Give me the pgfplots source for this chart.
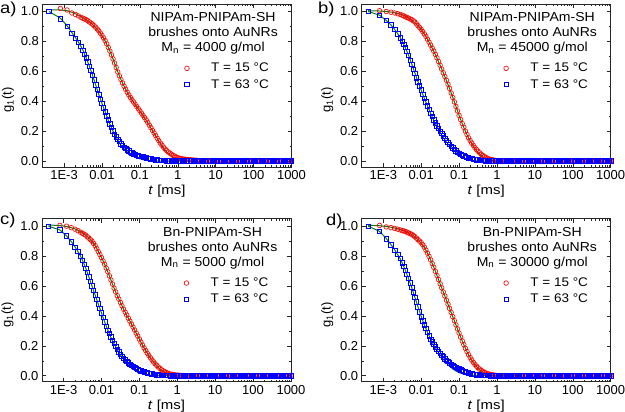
\documentclass[border=0pt]{standalone}
\usepackage{fontspec}
\setmainfont{Liberation Sans}
\usepackage{graphicx}
\usepackage{pgfplots}
\pgfplotsset{compat=1.18}
\usepackage{pgfplotstable}
\definecolor{myred}{RGB}{255,0,0}
\definecolor{myblue}{RGB}{0,0,255}
\definecolor{mygreen}{RGB}{0,128,0}

\pgfplotstableread{
t r b rf bf
4e-4 nan 1.00 1.012 1.00
8e-4 1.02 0.95 1.01 0.955
1.2e-3 1.01 0.90 1.005 0.905
1.6e-3 0.99 0.855 0.995 0.86
2e-3 0.98 0.82 0.985 0.825
2.4e-3 0.97 0.795 0.975 0.795
2.8e-3 0.96 0.765 0.965 0.765
3.162e-3 0.955 0.74 0.958 0.74
3.831e-3 0.945 0.69 0.946 0.69
4.642e-3 0.93 0.635 0.932 0.635
5.623e-3 0.915 0.575 0.914 0.575
6.813e-3 0.895 0.51 0.893 0.51
8.254e-3 0.87 0.445 0.868 0.445
0.01 0.84 0.385 0.838 0.385
0.01212 0.805 0.33 0.803 0.33
0.01468 0.76 0.275 0.76 0.273
0.01778 0.71 0.225 0.71 0.222
0.02154 0.655 0.18 0.655 0.178
0.0261 0.595 0.145 0.597 0.14
0.03162 0.545 0.115 0.545 0.108
0.03831 0.50 0.092 0.50 0.082
0.04642 0.46 0.074 0.46 0.061
0.05623 0.425 0.06 0.425 0.045
0.06813 0.395 0.049 0.393 0.032
0.08254 0.365 0.04 0.363 0.022
0.1 0.335 0.033 0.333 0.015
0.1212 0.305 0.027 0.303 0.009
0.1468 0.275 0.021 0.272 0.005
0.1778 0.24 0.016 0.238 0.002
0.2154 0.205 0.012 0.203 0.0
0.261 0.17 0.009 0.168 0.0
0.3162 0.135 0.006 0.133 0.0
0.3831 0.105 0.004 0.10 0.0
0.4642 0.08 0.003 0.073 0.0
0.5623 0.06 0.002 0.05 0.0
0.6813 0.045 0.001 0.033 0.0
0.8254 0.032 0.001 0.02 0.0
1 0.022 0.0 0.011 0.0
1.212 0.016 0.001 0.005 0.0
1.468 0.012 0.0 0.002 0.0
1.778 0.01 0.001 0.0 0.0
2.154 0.008 0.0 0.0 0.0
2.61 0.006 0.0 0.0 0.0
3.162 0.005 0.001 0.0 0.0
}\tA

\pgfplotstableread{
t r b
3.481e-3 0.95 0.715
4.217e-3 0.938 0.662
5.109e-3 0.923 0.605
6.19e-3 0.905 0.543
7.499e-3 0.883 0.478
9.085e-3 0.855 0.414
0.01101 0.823 0.357
0.01334 0.783 0.302
0.01616 0.735 0.25
0.01957 0.683 0.202
0.02371 0.625 0.162
0.02873 0.57 0.13
0.03481 0.522 0.103
0.04217 0.48 0.083
0.05109 0.442 0.067
0.0619 0.41 0.054
0.07499 0.38 0.044
0.09085 0.35 0.036
0.1101 0.32 0.03
0.1334 0.29 0.024
0.1616 0.258 0.018
0.1957 0.223 0.014
0.2371 0.188 0.010
0.2873 0.152 0.007
0.3481 0.12 0.005
0.4217 0.092 0.003
0.5109 0.07 0.002
0.619 0.052 0.001
0.7499 0.038 0.0
0.9085 0.027 0.001
1.101 0.019 0.0
1.334 0.014 0.001
1.616 0.011 0.0
1.957 0.009 0.001
2.371 0.007 0.0
2.873 0.005 0.0
}\tAm

\pgfplotstableread{
t r b rf bf
4e-4 nan 1.00 1.005 1.00
8e-4 1.005 0.975 1.003 0.975
1.2e-3 1.0 0.94 1.0 0.94
1.6e-3 0.995 0.91 0.996 0.91
2e-3 0.99 0.88 0.992 0.88
2.4e-3 0.985 0.85 0.988 0.852
2.8e-3 0.98 0.825 0.983 0.826
3.162e-3 0.975 0.80 0.978 0.80
3.831e-3 0.965 0.76 0.968 0.758
4.642e-3 0.955 0.705 0.956 0.708
5.623e-3 0.945 0.645 0.942 0.65
6.813e-3 0.93 0.585 0.925 0.59
8.254e-3 0.905 0.53 0.905 0.53
0.01 0.88 0.475 0.88 0.474
0.01212 0.85 0.42 0.85 0.42
0.01468 0.815 0.37 0.815 0.368
0.01778 0.775 0.32 0.775 0.318
0.02154 0.735 0.275 0.733 0.272
0.0261 0.69 0.235 0.688 0.23
0.03162 0.64 0.20 0.64 0.192
0.03831 0.59 0.168 0.59 0.157
0.04642 0.54 0.138 0.538 0.127
0.05623 0.485 0.11 0.484 0.10
0.06813 0.425 0.088 0.426 0.077
0.08254 0.365 0.068 0.366 0.057
0.1 0.305 0.052 0.306 0.04
0.1212 0.25 0.04 0.25 0.026
0.1468 0.2 0.03 0.198 0.016
0.1778 0.155 0.022 0.153 0.009
0.2154 0.12 0.016 0.115 0.005
0.261 0.09 0.011 0.084 0.002
0.3162 0.065 0.007 0.058 0.0
0.3831 0.045 0.005 0.037 0.0
0.4642 0.03 0.003 0.021 0.0
0.5623 0.018 0.002 0.011 0.0
0.6813 0.01 0.001 0.005 0.0
0.8254 0.006 0.0 0.002 0.0
1 0.003 0.001 0.0 0.0
1.212 0.002 0.0 0.0 0.0
1.468 0.001 0.0 0.0 0.0
1.778 0.0 0.001 0.0 0.0
2.154 0.001 0.0 0.0 0.0
2.61 0.0 0.0 0.0 0.0
3.162 0.0 0.001 0.0 0.0
}\tB

\pgfplotstableread{
t r b
3.481e-3 0.97 0.78
4.217e-3 0.96 0.733
5.109e-3 0.95 0.675
6.19e-3 0.938 0.615
7.499e-3 0.918 0.557
9.085e-3 0.893 0.502
0.01101 0.865 0.447
0.01334 0.833 0.395
0.01616 0.795 0.345
0.01957 0.755 0.297
0.02371 0.713 0.255
0.02873 0.665 0.217
0.03481 0.615 0.184
0.04217 0.565 0.153
0.05109 0.513 0.124
0.0619 0.455 0.099
0.07499 0.395 0.078
0.09085 0.335 0.06
0.1101 0.277 0.046
0.1334 0.225 0.035
0.1616 0.177 0.026
0.1957 0.137 0.019
0.2371 0.105 0.013
0.2873 0.077 0.009
0.3481 0.055 0.006
0.4217 0.037 0.004
0.5109 0.024 0.002
0.619 0.014 0.001
0.7499 0.008 0.001
0.9085 0.004 0.0
1.101 0.002 0.001
1.334 0.001 0.0
1.616 0.0 0.001
1.957 0.001 0.0
2.371 0.0 0.001
2.873 0.0 0.0
}\tBm

\pgfplotstableread{
t r b rf bf
4e-4 nan 1.00 1.008 1.00
8e-4 1.005 0.975 1.004 0.975
1.2e-3 1.0 0.935 0.998 0.935
1.6e-3 0.99 0.895 0.99 0.897
2e-3 0.98 0.86 0.982 0.862
2.4e-3 0.97 0.83 0.973 0.83
2.8e-3 0.96 0.80 0.964 0.80
3.162e-3 0.952 0.77 0.955 0.772
3.831e-3 0.94 0.72 0.94 0.72
4.642e-3 0.92 0.66 0.921 0.662
5.623e-3 0.90 0.60 0.898 0.60
6.813e-3 0.87 0.54 0.869 0.54
8.254e-3 0.83 0.48 0.832 0.48
0.01 0.79 0.42 0.79 0.42
0.01212 0.745 0.36 0.745 0.36
0.01468 0.695 0.305 0.695 0.305
0.01778 0.64 0.26 0.64 0.256
0.02154 0.585 0.215 0.585 0.212
0.0261 0.535 0.178 0.535 0.174
0.03162 0.49 0.145 0.49 0.14
0.03831 0.445 0.118 0.445 0.11
0.04642 0.405 0.095 0.405 0.085
0.05623 0.365 0.077 0.365 0.063
0.06813 0.325 0.062 0.325 0.045
0.08254 0.285 0.049 0.285 0.031
0.1 0.245 0.038 0.245 0.02
0.1212 0.205 0.03 0.205 0.012
0.1468 0.168 0.023 0.168 0.007
0.1778 0.135 0.017 0.134 0.003
0.2154 0.105 0.012 0.104 0.001
0.261 0.08 0.008 0.078 0.0
0.3162 0.058 0.005 0.055 0.0
0.3831 0.04 0.003 0.036 0.0
0.4642 0.027 0.002 0.022 0.0
0.5623 0.017 0.001 0.012 0.0
0.6813 0.01 0.0 0.006 0.0
0.8254 0.006 0.001 0.002 0.0
1 0.004 0.0 0.0 0.0
1.212 0.002 0.0 0.0 0.0
1.468 0.001 0.001 0.0 0.0
1.778 0.0 0.0 0.0 0.0
2.154 0.001 0.0 0.0 0.0
2.61 0.0 0.001 0.0 0.0
3.162 0.0 0.0 0.0 0.0
}\tC

\pgfplotstableread{
t r b
3.481e-3 0.946 0.745
4.217e-3 0.93 0.69
5.109e-3 0.91 0.63
6.19e-3 0.885 0.57
7.499e-3 0.85 0.51
9.085e-3 0.81 0.45
0.01101 0.768 0.39
0.01334 0.72 0.332
0.01616 0.668 0.282
0.01957 0.613 0.237
0.02371 0.56 0.196
0.02873 0.512 0.161
0.03481 0.468 0.131
0.04217 0.425 0.106
0.05109 0.385 0.086
0.0619 0.345 0.069
0.07499 0.305 0.055
0.09085 0.265 0.043
0.1101 0.225 0.034
0.1334 0.186 0.026
0.1616 0.151 0.02
0.1957 0.12 0.014
0.2371 0.092 0.01
0.2873 0.069 0.006
0.3481 0.049 0.004
0.4217 0.033 0.002
0.5109 0.022 0.001
0.619 0.013 0.001
0.7499 0.008 0.0
0.9085 0.005 0.001
1.101 0.003 0.0
1.334 0.001 0.0
1.616 0.001 0.001
1.957 0.0 0.0
2.371 0.001 0.0
2.873 0.0 0.001
}\tCm

\pgfplotstableread{
t r b rf bf
4e-4 nan 1.00 1.006 1.00
8e-4 1.005 0.965 1.003 0.965
1.2e-3 0.995 0.915 0.998 0.918
1.6e-3 0.99 0.875 0.993 0.877
2e-3 0.985 0.84 0.988 0.842
2.4e-3 0.98 0.81 0.983 0.81
2.8e-3 0.975 0.785 0.978 0.782
3.162e-3 0.97 0.755 0.973 0.755
3.831e-3 0.965 0.705 0.965 0.705
4.642e-3 0.955 0.65 0.955 0.65
5.623e-3 0.945 0.59 0.944 0.59
6.813e-3 0.93 0.525 0.929 0.525
8.254e-3 0.91 0.46 0.91 0.46
0.01 0.89 0.395 0.887 0.397
0.01212 0.86 0.34 0.858 0.34
0.01468 0.82 0.29 0.82 0.29
0.01778 0.775 0.245 0.776 0.245
0.02154 0.725 0.21 0.726 0.205
0.0261 0.67 0.178 0.671 0.17
0.03162 0.615 0.15 0.615 0.14
0.03831 0.56 0.125 0.56 0.11
0.04642 0.505 0.104 0.505 0.085
0.05623 0.45 0.086 0.45 0.064
0.06813 0.395 0.07 0.395 0.046
0.08254 0.34 0.057 0.34 0.032
0.1 0.285 0.045 0.285 0.021
0.1212 0.232 0.035 0.232 0.013
0.1468 0.183 0.026 0.183 0.007
0.1778 0.14 0.019 0.14 0.003
0.2154 0.105 0.013 0.104 0.001
0.261 0.076 0.009 0.075 0.0
0.3162 0.053 0.006 0.05 0.0
0.3831 0.036 0.004 0.032 0.0
0.4642 0.023 0.002 0.019 0.0
0.5623 0.014 0.001 0.01 0.0
0.6813 0.008 0.0 0.005 0.0
0.8254 0.004 0.001 0.002 0.0
1 0.002 0.0 0.0 0.0
1.212 0.001 0.0 0.0 0.0
1.468 0.0 0.001 0.0 0.0
1.778 0.001 0.0 0.0 0.0
2.154 0.0 0.0 0.0 0.0
2.61 0.0 0.001 0.0 0.0
3.162 0.001 0.0 0.0 0.0
}\tD

\pgfplotstableread{
t r b
3.481e-3 0.968 0.73
4.217e-3 0.96 0.678
5.109e-3 0.95 0.62
6.19e-3 0.938 0.558
7.499e-3 0.92 0.493
9.085e-3 0.9 0.427
0.01101 0.875 0.367
0.01334 0.84 0.315
0.01616 0.798 0.267
0.01957 0.75 0.227
0.02371 0.698 0.194
0.02873 0.643 0.164
0.03481 0.588 0.137
0.04217 0.533 0.114
0.05109 0.478 0.095
0.0619 0.423 0.078
0.07499 0.368 0.063
0.09085 0.313 0.051
0.1101 0.258 0.04
0.1334 0.208 0.03
0.1616 0.162 0.022
0.1957 0.122 0.016
0.2371 0.09 0.011
0.2873 0.064 0.007
0.3481 0.044 0.005
0.4217 0.029 0.003
0.5109 0.018 0.001
0.619 0.011 0.001
0.7499 0.006 0.0
0.9085 0.003 0.001
1.101 0.001 0.0
1.334 0.0 0.001
1.616 0.001 0.0
1.957 0.0 0.0
2.371 0.0 0.001
2.873 0.001 0.0
}\tDm

\pgfplotstableread{
t r b
3.481 0.0 0.001
3.831 0.001 0.0
4.217 0.0 0.0
4.642 0.0 0.001
5.109 0.001 -0.001
5.623 0.001 0.0
6.19 0.0 0.001
6.813 0.0 0.0
7.499 0.001 0.0
8.254 0.0 0.001
9.085 0.0 -0.001
10 0.001 0.0
11.01 0.0 0.001
12.12 0.0 -0.001
13.34 0.001 0.0
14.68 0.0 0.0
16.16 0.0 0.001
17.78 0.001 0.001
19.57 0.0 -0.001
21.54 0.0 0.0
23.71 0.001 0.0
26.1 0.0 0.0
28.73 0.0 0.001
31.62 0.001 0.001
34.81 0.0 -0.001
38.31 0.0 0.0
42.17 0.001 0.001
46.42 0.0 -0.001
51.09 0.0 0.0
56.23 0.001 0.0
61.9 0.0 -0.001
68.13 0.0 0.001
74.99 0.001 0.0
82.54 0.0 0.0
90.85 0.0 0.001
100 0.001 0.0
110.1 0.0 -0.001
121.2 0.0 0.001
133.4 0.001 0.0
146.8 0.0 0.0
161.6 0.0 0.001
177.8 0.001 -0.001
195.7 0.0 0.0
215.4 0.0 0.0
237.1 0.001 0.001
261 0.0 0.001
287.3 0.0 -0.001
316.2 0.001 0.0
348.1 0.0 0.001
383.1 0.0 0.0
421.7 0.001 -0.001
464.2 0.0 0.001
510.9 0.0 0.0
562.3 0.001 0.0
619 0.0 0.001
681.3 0.0 0.0
749.9 0.001 -0.001
825.4 0.0 0.001
908.5 0.0 0.0
1000 0.001 0.0
}\tBase

\pgfplotsset{
  dls/.style={
    scale only axis, width=249pt, height=163pt,
    anchor=south west,
    xmin=2.7e-4, xmax=1000,
    ymin=-0.04, ymax=1.05,
    xtick={1e-3,0.01,0.1,1,10,100,1000},
    xticklabels={1E-3,0.01,0.1,1,10,100,1000},
    ytick={0,0.2,0.4,0.6,0.8,1.0},
    minor ytick={0.1,0.3,0.5,0.7,0.9},
    yticklabels={0.0,0.2,0.4,0.6,0.8,1.0},
    tick label style={font=\fontsize{13}{13}\selectfont},
    label style={font=\fontsize{13}{13}\selectfont},
    xlabel={\scalebox{1.15}[1]{\textit{t} [ms]}},
    ylabel={g\textsubscript{1}(t)},
    xlabel style={at={(axis description cs:0.5,-0.149)},anchor=center},
    ylabel style={at={(axis description cs:-0.138,0.41)},anchor=center},
    axis line style={line width=0.8pt,black!85},
    major tick length=4pt, minor tick length=2pt,
    tick style={black!85,line width=0.5pt},
    legend style={draw=none,fill=none,font=\fontsize{12.5}{12.5}\selectfont,
      at={(axis description cs:0.57,0.65)},anchor=north west,row sep=2pt,column sep=20pt,inner sep=0pt},
    legend cell align=left,
  },
  rdata/.style={only marks,mark=o,mark size=2.3pt,color=myred,line width=0.65pt},
  bdata/.style={only marks,mark=square,mark size=2.2pt,color=myblue,line width=0.65pt},
  fitline/.style={no marks,color=mygreen,line width=1pt},
}
\tikzset{paneltext/.style={align=center,font=\fontsize{13}{14.8}\selectfont},
  panelletter/.style={anchor=base west,inner sep=0pt,font=\fontsize{16}{16}\selectfont}}
\newcommand{\wtxt}[1]{\scalebox{1.08}[1]{#1}}

\begin{document}
\begin{tikzpicture}
\useasboundingbox (0pt,0pt) rectangle (625pt,412pt);

\begin{semilogxaxis}[dls, at={(42.5pt,245pt)}]
\addplot[rdata] table[x=t,y=r]{\tA};
\addlegendentry{\wtxt{T = 15 °C}}
\addplot[rdata,forget plot] table[x=t,y=r]{\tAm};
\addplot[rdata,forget plot] table[x=t,y=r]{\tBase};
\addplot[bdata] table[x=t,y=b]{\tA};
\addlegendentry{\wtxt{T = 63 °C}}
\addplot[bdata,forget plot] table[x=t,y=b]{\tAm};
\addplot[bdata,forget plot] table[x=t,y=b]{\tBase};
\addplot[fitline,forget plot] table[x=t,y=rf]{\tA};
\addplot[fitline,forget plot] table[x=t,y=bf]{\tA};
\node[paneltext] at (axis description cs:0.685,0.82) {\wtxt{NIPAm-PNIPAm-SH}\\\wtxt{brushes onto AuNRs}\\\wtxt{M\textsubscript{n} = 4000 g/mol}};
\end{semilogxaxis}

\begin{semilogxaxis}[dls, at={(361.7pt,245pt)}]
\addplot[rdata] table[x=t,y=r]{\tB};
\addlegendentry{\wtxt{T = 15 °C}}
\addplot[rdata,forget plot] table[x=t,y=r]{\tBm};
\addplot[rdata,forget plot] table[x=t,y=r]{\tBase};
\addplot[bdata] table[x=t,y=b]{\tB};
\addlegendentry{\wtxt{T = 63 °C}}
\addplot[bdata,forget plot] table[x=t,y=b]{\tBm};
\addplot[bdata,forget plot] table[x=t,y=b]{\tBase};
\addplot[fitline,forget plot] table[x=t,y=rf]{\tB};
\addplot[fitline,forget plot] table[x=t,y=bf]{\tB};
\node[paneltext] at (axis description cs:0.685,0.82) {\wtxt{NIPAm-PNIPAm-SH}\\\wtxt{brushes onto AuNRs}\\\wtxt{M\textsubscript{n} = 45000 g/mol}};
\end{semilogxaxis}

\begin{semilogxaxis}[dls, at={(42pt,30.3pt)}]
\addplot[rdata] table[x=t,y=r]{\tC};
\addlegendentry{\wtxt{T = 15 °C}}
\addplot[rdata,forget plot] table[x=t,y=r]{\tCm};
\addplot[rdata,forget plot] table[x=t,y=r]{\tBase};
\addplot[bdata] table[x=t,y=b]{\tC};
\addlegendentry{\wtxt{T = 63 °C}}
\addplot[bdata,forget plot] table[x=t,y=b]{\tCm};
\addplot[bdata,forget plot] table[x=t,y=b]{\tBase};
\addplot[fitline,forget plot] table[x=t,y=rf]{\tC};
\addplot[fitline,forget plot] table[x=t,y=bf]{\tC};
\node[paneltext] at (axis description cs:0.685,0.82) {\wtxt{Bn-PNIPAm-SH}\\\wtxt{brushes onto AuNRs}\\\wtxt{M\textsubscript{n} = 5000 g/mol}};
\end{semilogxaxis}

\begin{semilogxaxis}[dls, at={(361.7pt,30.3pt)}]
\addplot[rdata] table[x=t,y=r]{\tD};
\addlegendentry{\wtxt{T = 15 °C}}
\addplot[rdata,forget plot] table[x=t,y=r]{\tDm};
\addplot[rdata,forget plot] table[x=t,y=r]{\tBase};
\addplot[bdata] table[x=t,y=b]{\tD};
\addlegendentry{\wtxt{T = 63 °C}}
\addplot[bdata,forget plot] table[x=t,y=b]{\tDm};
\addplot[bdata,forget plot] table[x=t,y=b]{\tBase};
\addplot[fitline,forget plot] table[x=t,y=rf]{\tD};
\addplot[fitline,forget plot] table[x=t,y=bf]{\tD};
\node[paneltext] at (axis description cs:0.685,0.82) {\wtxt{Bn-PNIPAm-SH}\\\wtxt{brushes onto AuNRs}\\\wtxt{M\textsubscript{n} = 30000 g/mol}};
\end{semilogxaxis}

\node[panelletter] at (0pt,398pt) {\scalebox{1.15}[1]{a)}};
\node[panelletter] at (318pt,398pt) {\scalebox{1.15}[1]{b)}};
\node[panelletter] at (0pt,187pt) {\scalebox{1.15}[1]{c)}};
\node[panelletter] at (326pt,186pt) {\scalebox{1.15}[1]{d)}};
\end{tikzpicture}
\end{document}
